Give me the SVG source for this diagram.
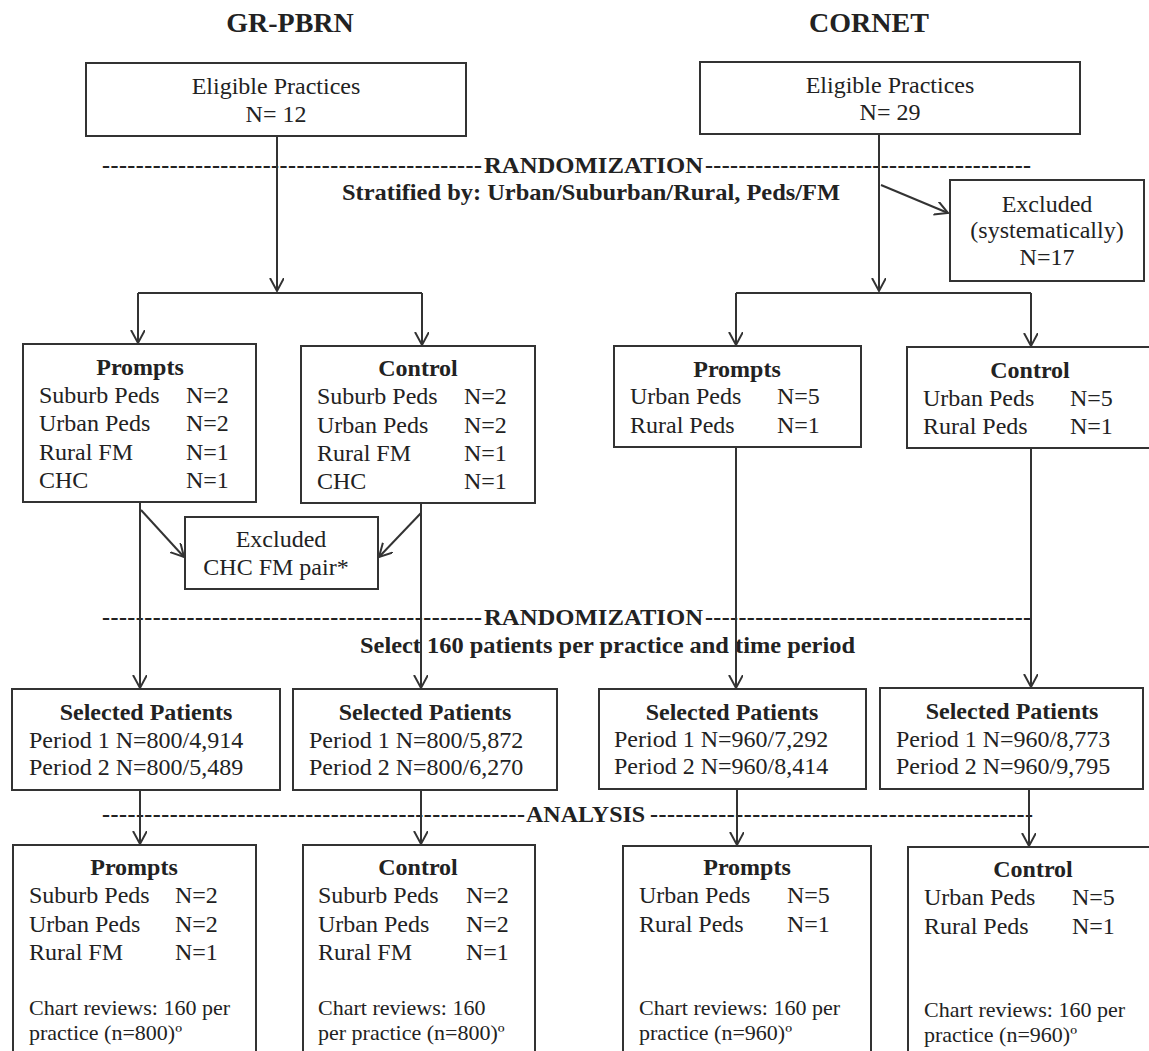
<svg xmlns="http://www.w3.org/2000/svg" width="1149" height="1051" viewBox="0 0 1149 1051">
<style>
.bg{fill:#fff}
.box{fill:#fff;stroke:#333;stroke-width:2}
.t{font-family:"Liberation Serif","Times New Roman",serif;font-size:24px;fill:#222}
.s{font-size:22px}
.b{font-weight:bold}
.c{text-anchor:middle}
.ttl{font-size:28px;font-weight:bold}
.ln{stroke:#333;stroke-width:2;fill:none}
.ar{marker-end:url(#ah)}
</style>
<defs>
<marker id="ah" markerUnits="userSpaceOnUse" markerWidth="16" markerHeight="16" refX="13" refY="7" orient="auto">
<path d="M0,0 L13,7 L0,14" fill="none" stroke="#333" stroke-width="2"/>
</marker>
</defs>
<rect class="bg" x="0" y="0" width="1149" height="1051"/>

<g id="titles">
<text class="t ttl c" x="290" y="32">GR-PBRN</text>
<text class="t ttl c" x="869" y="32">CORNET</text>
</g>

<g id="phase-randomization-1">
<text class="t b" x="102" y="173" textLength="380" lengthAdjust="spacing">---------------------------------------------</text>
<text class="t b" x="484" y="173" textLength="219" lengthAdjust="spacingAndGlyphs">RANDOMIZATION</text>
<text class="t b" x="705" y="173" textLength="326" lengthAdjust="spacing">---------------------------------------</text>
<text class="t b" x="342" y="200" textLength="498" lengthAdjust="spacingAndGlyphs">Stratified by: Urban/Suburban/Rural, Peds/FM</text>
</g>

<g id="phase-randomization-2">
<text class="t b" x="102" y="625" textLength="380" lengthAdjust="spacing">---------------------------------------------</text>
<text class="t b" x="484" y="625" textLength="219" lengthAdjust="spacingAndGlyphs">RANDOMIZATION</text>
<text class="t b" x="705" y="625" textLength="326" lengthAdjust="spacing">---------------------------------------</text>
<text class="t b" x="360" y="653" textLength="495" lengthAdjust="spacingAndGlyphs">Select 160 patients per practice and time period</text>
</g>

<g id="phase-analysis">
<text class="t b" x="102" y="822" textLength="423" lengthAdjust="spacing">--------------------------------------------------</text>
<text class="t b" x="526" y="822">ANALYSIS</text>
<text class="t b" x="650" y="822" textLength="383" lengthAdjust="spacing">---------------------------------------------</text>
</g>

<g id="connectors">
<line class="ln ar" x1="277" y1="136" x2="277" y2="291"/>
<polyline class="ln" points="138,293 422,293"/>
<line class="ln ar" x1="138" y1="293" x2="138" y2="343"/>
<line class="ln ar" x1="422" y1="293" x2="422" y2="345"/>
<line class="ln ar" x1="879" y1="134" x2="879" y2="291"/>
<polyline class="ln" points="736,293 1031,293"/>
<line class="ln ar" x1="736" y1="293" x2="736" y2="345"/>
<line class="ln ar" x1="1031" y1="293" x2="1031" y2="346"/>
<line class="ln ar" x1="881" y1="185" x2="948" y2="213"/>
<line class="ln ar" x1="140" y1="502" x2="140" y2="688"/>
<line class="ln ar" x1="141" y1="510" x2="184" y2="557"/>
<line class="ln ar" x1="421" y1="503" x2="421" y2="688"/>
<line class="ln ar" x1="421" y1="513" x2="379" y2="557"/>
<line class="ln ar" x1="736" y1="447" x2="736" y2="688"/>
<line class="ln ar" x1="1031" y1="448" x2="1031" y2="687"/>
<line class="ln ar" x1="140" y1="790" x2="140" y2="844"/>
<line class="ln ar" x1="421" y1="790" x2="421" y2="844"/>
<line class="ln ar" x1="737" y1="789" x2="737" y2="845"/>
<line class="ln ar" x1="1029" y1="789" x2="1029" y2="846"/>
</g>

<g id="gr-eligible">
<rect class="box" x="86" y="63" width="380" height="73"/>
<text class="t c" x="276" y="94">Eligible Practices</text>
<text class="t c" x="276" y="122">N= 12</text>
</g>

<g id="cornet-eligible">
<rect class="box" x="700" y="62" width="380" height="72"/>
<text class="t c" x="890" y="93">Eligible Practices</text>
<text class="t c" x="890" y="120">N= 29</text>
</g>

<g id="cornet-excluded">
<rect class="box" x="950" y="180" width="194" height="101"/>
<text class="t c" x="1047" y="212">Excluded</text>
<text class="t c" x="1047" y="238">(systematically)</text>
<text class="t c" x="1047" y="265">N=17</text>
</g>

<g id="gr-prompts">
<rect class="box" x="23" y="344" width="233" height="158"/>
<text class="t b c" x="140" y="375">Prompts</text>
<text class="t" x="39" y="403">Suburb Peds</text><text class="t" x="186" y="403">N=2</text>
<text class="t" x="39" y="431">Urban Peds</text><text class="t" x="186" y="431">N=2</text>
<text class="t" x="39" y="460">Rural FM</text><text class="t" x="186" y="460">N=1</text>
<text class="t" x="39" y="488">CHC</text><text class="t" x="186" y="488">N=1</text>
</g>

<g id="gr-control">
<rect class="box" x="301" y="346" width="234" height="157"/>
<text class="t b c" x="418" y="376">Control</text>
<text class="t" x="317" y="404">Suburb Peds</text><text class="t" x="464" y="404">N=2</text>
<text class="t" x="317" y="433">Urban Peds</text><text class="t" x="464" y="433">N=2</text>
<text class="t" x="317" y="461">Rural FM</text><text class="t" x="464" y="461">N=1</text>
<text class="t" x="317" y="489">CHC</text><text class="t" x="464" y="489">N=1</text>
</g>

<g id="gr-excluded">
<rect class="box" x="185" y="517" width="193" height="72"/>
<text class="t c" x="281" y="547">Excluded</text>
<text class="t c" x="276" y="575">CHC FM pair*</text>
</g>

<g id="cornet-prompts">
<rect class="box" x="614" y="346" width="247" height="101"/>
<text class="t b c" x="737" y="377">Prompts</text>
<text class="t" x="630" y="404">Urban Peds</text><text class="t" x="777" y="404">N=5</text>
<text class="t" x="630" y="433">Rural Peds</text><text class="t" x="777" y="433">N=1</text>
</g>

<g id="cornet-control">
<rect class="box" x="907" y="347" width="245" height="101"/>
<text class="t b c" x="1030" y="378">Control</text>
<text class="t" x="923" y="406">Urban Peds</text><text class="t" x="1070" y="406">N=5</text>
<text class="t" x="923" y="434">Rural Peds</text><text class="t" x="1070" y="434">N=1</text>
</g>

<g id="gr-selected-prompts">
<rect class="box" x="12" y="689" width="268" height="101"/>
<text class="t b c" x="146" y="720">Selected Patients</text>
<text class="t" x="29" y="748">Period 1 N=800/4,914</text>
<text class="t" x="29" y="775">Period 2 N=800/5,489</text>
</g>

<g id="gr-selected-control">
<rect class="box" x="293" y="689" width="264" height="101"/>
<text class="t b c" x="425" y="720">Selected Patients</text>
<text class="t" x="309" y="748">Period 1 N=800/5,872</text>
<text class="t" x="309" y="775">Period 2 N=800/6,270</text>
</g>

<g id="cornet-selected-prompts">
<rect class="box" x="599" y="689" width="267" height="100"/>
<text class="t b c" x="732" y="720">Selected Patients</text>
<text class="t" x="614" y="747">Period 1 N=960/7,292</text>
<text class="t" x="614" y="774">Period 2 N=960/8,414</text>
</g>

<g id="cornet-selected-control">
<rect class="box" x="880" y="688" width="263" height="101"/>
<text class="t b c" x="1012" y="719">Selected Patients</text>
<text class="t" x="896" y="747">Period 1 N=960/8,773</text>
<text class="t" x="896" y="774">Period 2 N=960/9,795</text>
</g>

<g id="gr-analysis-prompts">
<rect class="box" x="13" y="845" width="243" height="230"/>
<text class="t b c" x="134" y="875">Prompts</text>
<text class="t" x="29" y="903">Suburb Peds</text><text class="t" x="175" y="903">N=2</text>
<text class="t" x="29" y="932">Urban Peds</text><text class="t" x="175" y="932">N=2</text>
<text class="t" x="29" y="960">Rural FM</text><text class="t" x="175" y="960">N=1</text>
<text class="t s" x="29" y="1015">Chart reviews: 160 per</text>
<text class="t s" x="29" y="1040">practice (n=800)º</text>
</g>

<g id="gr-analysis-control">
<rect class="box" x="303" y="845" width="232" height="230"/>
<text class="t b c" x="418" y="875">Control</text>
<text class="t" x="318" y="903">Suburb Peds</text><text class="t" x="466" y="903">N=2</text>
<text class="t" x="318" y="932">Urban Peds</text><text class="t" x="466" y="932">N=2</text>
<text class="t" x="318" y="960">Rural FM</text><text class="t" x="466" y="960">N=1</text>
<text class="t s" x="318" y="1015">Chart reviews: 160</text>
<text class="t s" x="318" y="1040">per practice (n=800)º</text>
</g>

<g id="cornet-analysis-prompts">
<rect class="box" x="623" y="846" width="248" height="230"/>
<text class="t b c" x="747" y="875">Prompts</text>
<text class="t" x="639" y="903">Urban Peds</text><text class="t" x="787" y="903">N=5</text>
<text class="t" x="639" y="932">Rural Peds</text><text class="t" x="787" y="932">N=1</text>
<text class="t s" x="639" y="1015">Chart reviews: 160 per</text>
<text class="t s" x="639" y="1040">practice (n=960)º</text>
</g>

<g id="cornet-analysis-control">
<rect class="box" x="908" y="847" width="245" height="230"/>
<text class="t b c" x="1033" y="877">Control</text>
<text class="t" x="924" y="905">Urban Peds</text><text class="t" x="1072" y="905">N=5</text>
<text class="t" x="924" y="934">Rural Peds</text><text class="t" x="1072" y="934">N=1</text>
<text class="t s" x="924" y="1017">Chart reviews: 160 per</text>
<text class="t s" x="924" y="1042">practice (n=960)º</text>
</g>
</svg>
